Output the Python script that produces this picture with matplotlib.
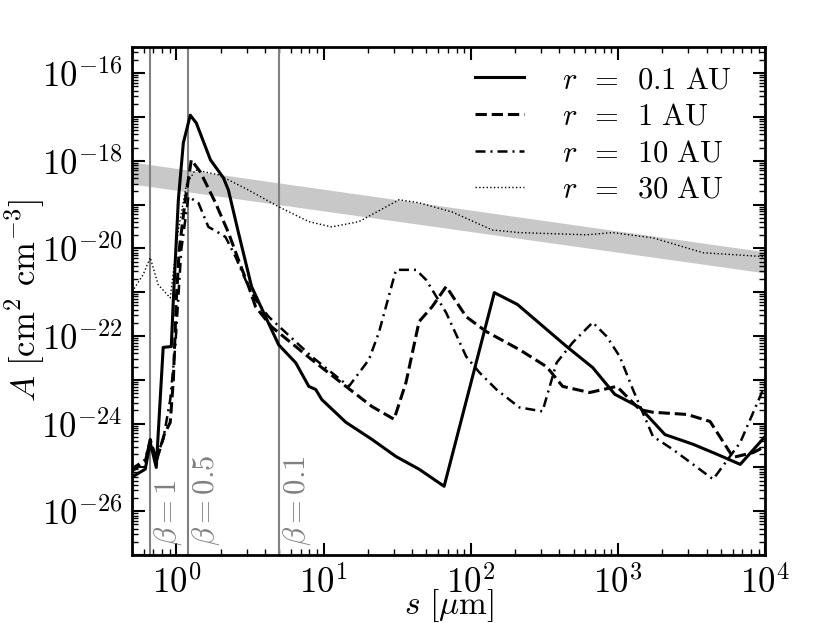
import numpy as np
import matplotlib
matplotlib.use('Agg')
import matplotlib.pyplot as plt
import matplotlib.ticker as ticker
import matplotlib.transforms as mtransforms

plt.rcParams['mathtext.fontset'] = 'cm'
plt.rcParams['font.family'] = 'serif'
plt.rcParams['font.serif'] = ['cmr10', 'DejaVu Serif']
plt.rcParams['axes.unicode_minus'] = False

# values, as log10(s [um]) and log10(A)
logs_01 = [-0.307, -0.211, -0.177, -0.136, -0.089, -0.034, -0.020, 0.014, 0.048, 0.095,
           0.136, 0.232, 0.320, 0.354, 0.422, 0.511, 0.606, 0.695, 0.811, 0.900,
           0.947, 0.988, 1.152, 1.329, 1.492, 1.649, 1.819, 2.160, 2.317, 2.651,
           2.828, 2.978, 3.148, 3.319, 3.509, 3.673, 3.830, 4.0]
logA_01 = [-25.23, -25.04, -24.43, -25.00, -22.26, -22.24, -21.17, -18.89, -17.59, -16.96,
           -17.14, -17.98, -18.39, -18.67, -19.64, -20.87, -21.56, -22.20, -22.61, -23.15,
           -23.22, -23.45, -23.97, -24.36, -24.75, -25.04, -25.43, -21.01, -21.28, -22.24,
           -22.72, -23.33, -23.63, -24.25, -24.47, -24.70, -24.93, -24.29]

logs_1 = [-0.307, -0.211, -0.177, -0.136, -0.082, -0.041, -0.020, 0.0, 0.020, 0.061,
          0.102, 0.164, 0.266, 0.354, 0.422, 0.491, 0.538, 0.647, 0.811, 0.920,
          1.152, 1.329, 1.479, 1.560, 1.649, 1.738, 1.833, 1.969, 2.106, 2.330,
          2.515, 2.624, 2.807, 2.992, 3.148, 3.237, 3.469, 3.625, 3.782, 3.918, 4.0]
logA_1 = [-25.09, -24.88, -24.36, -24.86, -24.25, -23.97, -23.0, -21.17, -20.03, -18.89,
          -17.98, -18.26, -18.96, -19.64, -20.26, -20.87, -21.33, -21.79, -22.24, -22.54,
          -23.15, -23.61, -23.90, -23.06, -21.67, -21.33, -20.87, -21.56, -21.90, -22.31,
          -22.70, -23.15, -23.29, -23.15, -23.68, -23.74, -23.79, -23.95, -24.77, -24.66, -24.52]

logs_10 = [-0.307, -0.211, -0.177, -0.136, -0.089, -0.041, -0.007, 0.034, 0.082, 0.150,
           0.218, 0.286, 0.334, 0.402, 0.470, 0.538, 0.627, 0.743, 0.920, 1.172,
           1.308, 1.376, 1.492, 1.629, 1.697, 1.833, 1.969, 2.058, 2.174, 2.330,
           2.487, 2.583, 2.692, 2.828, 2.923, 3.012, 3.101, 3.237, 3.373, 3.646, 3.830, 4.0]
logA_10 = [-25.04, -24.82, -24.38, -24.77, -24.36, -23.45, -22.24, -20.03, -18.82, -18.96,
           -19.51, -19.64, -19.74, -20.19, -20.72, -21.17, -21.56, -21.92, -22.47, -23.15,
           -22.54, -21.92, -20.49, -20.49, -20.72, -21.47, -22.47, -22.83, -23.22, -23.63,
           -23.72, -22.61, -22.15, -21.69, -22.01, -22.47, -23.22, -24.29, -24.59, -25.27, -24.43, -23.11]

logs_30 = [-0.300, -0.225, -0.177, -0.123, -0.041, 0.014, 0.068, 0.129, 0.286, 0.491,
           0.695, 0.900, 1.056, 1.240, 1.513, 1.649, 1.874, 2.146, 2.330, 2.787,
           2.964, 3.237, 3.578, 4.0]
logA_30 = [-20.99, -20.60, -20.21, -20.83, -21.13, -19.58, -18.55, -18.21, -18.32, -18.67,
           -19.05, -19.39, -19.51, -19.39, -18.89, -18.96, -19.17, -19.58, -19.64, -19.69,
           -19.64, -19.76, -20.10, -20.19]

band_logs = [-0.301, 4.0]
band_logA_hi = [-18.03, -20.08]
band_logA_lo = [-18.53, -20.56]

beta_s = [0.665, 1.2, 5.0]
beta_labels = [r'$\beta = 1$', r'$\beta = 0.5$', r'$\beta = 0.1$']

labels = [r'$r\ \,=\ \,0.1\ \mathrm{AU}$', r'$r\ \,=\ \,1\ \mathrm{AU}$',
          r'$r\ \,=\ \,10\ \mathrm{AU}$', r'$r\ \,=\ \,30\ \mathrm{AU}$']

x_major = [1e0, 1e1, 1e2, 1e3, 1e4]
y_major_exp = list(range(-27, -15))

fig = plt.figure(figsize=(8.3, 6.23), dpi=100)
ax = fig.add_axes([0.159, 0.109, 0.763, 0.816])

bs = np.power(10.0, band_logs)
ax.fill_between(bs, np.power(10.0, band_logA_lo), np.power(10.0, band_logA_hi),
                color='#c8c8c8', lw=0, zorder=1)

for b in beta_s:
    ax.axvline(b, color='#808080', lw=1.5, zorder=2)

ax.plot(np.power(10.0, logs_01), np.power(10.0, logA_01), color='k', lw=2.2, ls='-', label=labels[0], zorder=5)
ax.plot(np.power(10.0, logs_1), np.power(10.0, logA_1), color='k', lw=2.2, ls='--', label=labels[1], zorder=4)
ax.plot(np.power(10.0, logs_10), np.power(10.0, logA_10), color='k', lw=1.8, dashes=(4, 2, 0.8, 2), label=labels[2], zorder=4)
ax.plot(np.power(10.0, logs_30), np.power(10.0, logA_30), color='k', lw=1.0, ls=':', label=labels[3], zorder=3)

ax.set_xscale('log')
ax.set_yscale('log')
ax.set_xlim(0.5, 1e4)
ax.set_ylim(1e-27, 4e-16)

trans = mtransforms.offset_copy(ax.transData, fig=fig, x=2, y=0, units='dots')
for b, t in zip(beta_s, beta_labels):
    ax.text(b, 1.6e-27, t, rotation=90, ha='left', va='bottom', color='#808080',
            fontsize=22, transform=trans)


def exp_label(v, pos, every=1):
    e = int(round(np.log10(v)))
    if e % every != 0:
        return ''
    return r'$\mathrm{10}^{%d}$' % e


ax.xaxis.set_major_locator(ticker.FixedLocator(x_major))
ax.xaxis.set_minor_locator(ticker.LogLocator(base=10, subs=np.arange(2, 10), numticks=50))
ax.xaxis.set_major_formatter(ticker.FuncFormatter(exp_label))
ax.xaxis.set_minor_formatter(ticker.NullFormatter())
ax.yaxis.set_major_locator(ticker.FixedLocator([10.0 ** e for e in y_major_exp]))
ax.yaxis.set_minor_locator(ticker.LogLocator(base=10, subs=np.arange(2, 10), numticks=100))
ax.yaxis.set_major_formatter(ticker.FuncFormatter(lambda v, p: exp_label(v, p, 2)))
ax.yaxis.set_minor_formatter(ticker.NullFormatter())

ax.tick_params(which='both', direction='in', top=True, right=True, labelsize=25)
ax.tick_params(which='major', length=9, width=1.5, pad=7)
ax.tick_params(which='minor', length=4, width=1.0)
for sp in ax.spines.values():
    sp.set_linewidth(2)

ax.set_xlabel(r'$s\ [\mu\mathrm{m}]$', fontsize=24)
ax.xaxis.set_label_coords(0.5, -0.063)
ax.set_ylabel(r'$A\ [\mathrm{cm^2\ cm^{-3}}]$', fontsize=25, labelpad=-4)

ax.legend(loc='upper right', bbox_to_anchor=(0.967, 0.985), frameon=False, fontsize=22,
          handlelength=1.6, handletextpad=1.25, labelspacing=0.3, borderaxespad=0.0)

fig.savefig('out.png', dpi=100)
